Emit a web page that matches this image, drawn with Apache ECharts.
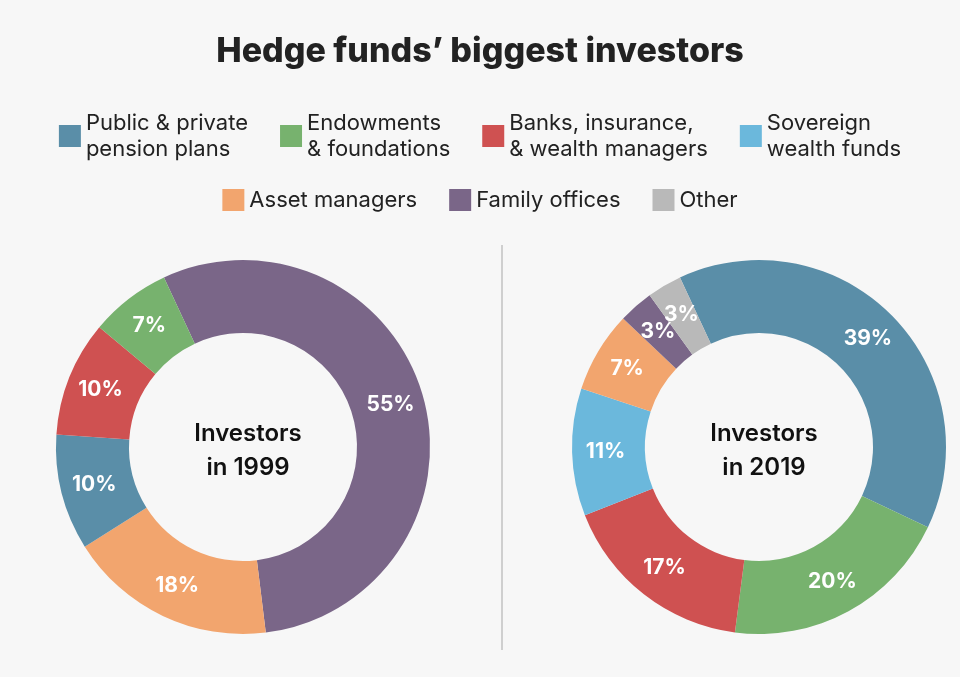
<!DOCTYPE html>
<html><head><meta charset="utf-8">
<script src="https://cdn.jsdelivr.net/npm/echarts@6/dist/echarts.min.js"></script>
<style>html,body{margin:0;padding:0;background:#f7f7f7}#c{width:960px;height:677px}</style>
</head><body><div id="c"></div>
<script>
const names = ["Public & private\npension plans","Endowments\n& foundations","Banks, insurance,\n& wealth managers","Sovereign\nwealth funds","Asset managers","Family offices","Other"];
const colors = {"Public & private\npension plans":"#5a8ea8","Endowments\n& foundations":"#77b26e","Banks, insurance,\n& wealth managers":"#cf5151","Sovereign\nwealth funds":"#6bb8dc","Asset managers":"#f2a56e","Family offices":"#7a6688","Other":"#b9b9b9"};
const cats1999 = ["Family offices","Asset managers","Public & private\npension plans","Banks, insurance,\n& wealth managers","Endowments\n& foundations"];
const vals1999 = [55,18,10,10,7];
const cats2019 = ["Public & private\npension plans","Endowments\n& foundations","Banks, insurance,\n& wealth managers","Sovereign\nwealth funds","Asset managers","Family offices","Other"];
const vals2019 = [39,20,17,11,7,3,3];
const F = "Inter, 'Noto Sans', sans-serif";
function mk(cats, vals){return cats.map((c,i)=>({name:c,value:vals[i],itemStyle:{color:colors[c]}}));}
const lbl = {show:true,position:'inside',formatter:'{c}%',color:'#fff',fontSize:21,fontWeight:700,fontFamily:F};
const leg = {icon:'rect',itemWidth:22,itemHeight:22,itemGap:32,textStyle:{fontSize:22,color:'#222',fontFamily:F,lineHeight:26},selectedMode:false};
const chart = echarts.init(document.getElementById('c'));
chart.setOption({
  backgroundColor:'#f7f7f7',
  title:[
    {text:'Hedge funds’ biggest investors',left:'center',top:30,textStyle:{fontSize:34,fontWeight:800,color:'#222',fontFamily:F}},
    {text:'Investors\nin 1999',left:243,top:446,textAlign:'center',textVerticalAlign:'middle',textStyle:{fontSize:24,fontWeight:600,color:'#111',fontFamily:F,lineHeight:34}},
    {text:'Investors\nin 2019',left:759,top:446,textAlign:'center',textVerticalAlign:'middle',textStyle:{fontSize:24,fontWeight:600,color:'#111',fontFamily:F,lineHeight:34}}
  ],
  legend:[
    Object.assign({},leg,{data:names.slice(0,4),left:'center',top:105}),
    Object.assign({},leg,{data:names.slice(4),left:'center',top:182})
  ],
  graphic:[{type:'line',shape:{x1:502,y1:245,x2:502,y2:650},style:{stroke:'#cfcfcf',lineWidth:2}}],
  series:[
    {type:'pie',center:[243,447],radius:[114,187],startAngle:115,clockwise:true,label:lbl,labelLine:{show:false},labelLayout:{hideOverlap:false},avoidLabelOverlap:false,silent:true,data:mk(cats1999,vals1999)},
    {type:'pie',center:[759,447],radius:[114,187],startAngle:115,clockwise:true,label:lbl,labelLine:{show:false},labelLayout:{hideOverlap:false},avoidLabelOverlap:false,silent:true,data:mk(cats2019,vals2019)}
  ]
});
</script></body></html>
